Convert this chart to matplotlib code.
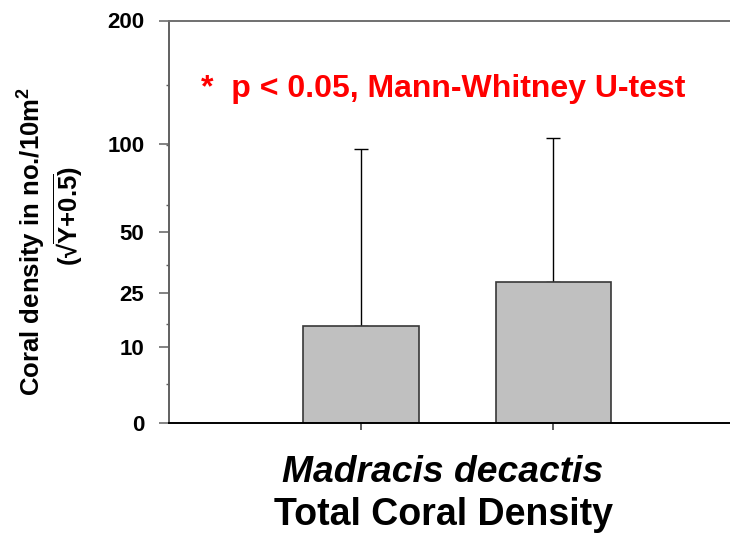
import numpy as np
import matplotlib
matplotlib.use("Agg")
import matplotlib.pyplot as plt
from matplotlib.ticker import FixedLocator, NullFormatter

plt.rcParams['font.family'] = ['Liberation Sans', 'DejaVu Sans']
plt.rcParams['font.weight'] = 'bold'
plt.rcParams['mathtext.fontset'] = 'custom'
plt.rcParams['mathtext.rm'] = 'Liberation Sans:bold'
plt.rcParams['mathtext.it'] = 'Liberation Sans:bold:italic'
plt.rcParams['mathtext.bf'] = 'Liberation Sans:bold'

# Mean density per group and upper SD (no./10m2)
groups = ['A', 'B']
means = [15.0, 28.7]
sd = [81.9, 75.6]

yticks = [0, 10, 25, 50, 100, 200]
yminor = [3.5, 15.5, 35.5, 63.5, 99.5, 143.5]


def fwd(y):
    return np.sqrt(np.asarray(y) + 0.5)


def inv(s):
    return np.asarray(s) ** 2 - 0.5


fig = plt.figure(figsize=(7.3, 5.34), dpi=100)
ax = fig.add_axes([169 / 730, 1 - 423 / 534, 1 - 169 / 730, 402.5 / 534])
ax.set_yscale('function', functions=(fwd, inv))

x = np.arange(1, len(groups) + 1)
ax.bar(x, means, width=0.6, color='#c0c0c0', edgecolor='#383838', linewidth=1.2, zorder=2)
ax.errorbar(x, means, yerr=[np.zeros(len(sd)), sd], fmt='none', ecolor='black',
            elinewidth=1.0, capsize=4.8, capthick=1.0, zorder=1)

ax.set_xlim(0, 2.92)
ax.set_ylim(0, 200)
ax.set_xticks(x)
ax.set_xticklabels([])
ax.set_yticks(yticks)
ax.set_yticklabels([str(t) for t in yticks], fontsize=16, fontweight='bold')
ax.yaxis.set_minor_locator(FixedLocator(yminor))
ax.yaxis.set_minor_formatter(NullFormatter())
ax.tick_params(axis='y', which='major', length=7.2, width=1.1, color='#606060', pad=10.5)
ax.tick_params(axis='y', which='minor', length=2, width=1, color='#606060')
ax.tick_params(axis='x', which='major', length=5, width=1.1, color='#303030')

ax.spines['right'].set_visible(False)
ax.spines['left'].set_color('#606060')
ax.spines['left'].set_linewidth(1.4)
ax.spines['top'].set_color('#707070')
ax.spines['top'].set_linewidth(1.4)
ax.spines['bottom'].set_color('black')
ax.spines['bottom'].set_linewidth(1.4)

fig.text(201 / 730, 1 - 97 / 534, '*  p < 0.05, Mann-Whitney U-test',
         color='#ff0000', fontsize=23, fontweight='bold', va='baseline', ha='left')

fig.text(32 / 730, 1 - 241 / 534, 'Coral density in no./10m$^{2}$', rotation=90,
         fontsize=18.5, fontweight='bold', ha='center', va='center')
fig.text(68 / 730, 1 - 216 / 534, '(√' + r'$\overline{\mathrm{Y{+}0.5}}$' + ')', rotation=90,
         fontsize=18.5, fontweight='bold', ha='center', va='center')

fig.text(443 / 730, 1 - 482 / 534, 'Madracis decactis', fontsize=26.8, fontweight='bold',
         fontstyle='italic', ha='center', va='baseline')
fig.text(443 / 730, 1 - 525 / 534, 'Total Coral Density', fontsize=27, fontweight='bold',
         ha='center', va='baseline')

fig.savefig('out.png', dpi=100)
